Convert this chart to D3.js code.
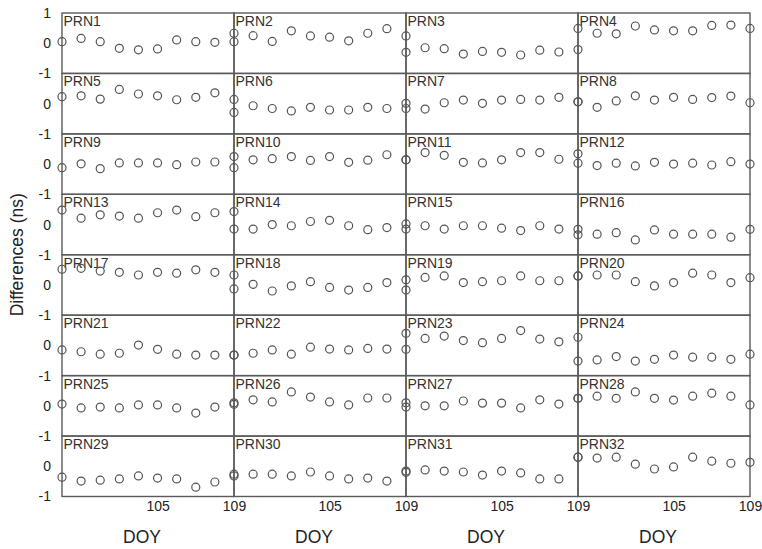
<!DOCTYPE html>
<html><head><meta charset="utf-8">
<script src="https://cdn.jsdelivr.net/npm/d3@7"></script>
<style>
body{margin:0;background:#fff;}
svg{display:block;font-family:"Liberation Sans",Arial,sans-serif;}
</style></head>
<body><div id="chart"></div>
<script>
const days = [100,101,102,103,104,105,106,107,108,109];
const xTicks = [105,109];
const yTicks = [0,-1];
const prnNames = ["PRN1","PRN2","PRN3","PRN4","PRN5","PRN6","PRN7","PRN8","PRN9","PRN10","PRN11","PRN12","PRN13","PRN14","PRN15","PRN16","PRN17","PRN18","PRN19","PRN20","PRN21","PRN22","PRN23","PRN24","PRN25","PRN26","PRN27","PRN28","PRN29","PRN30","PRN31","PRN32"];
const prn1  = [0.05,0.16,0.05,-0.17,-0.22,-0.19,0.11,0.05,0.03,0.05];
const prn2  = [0.33,0.25,0.06,0.41,0.24,0.20,0.08,0.33,0.48,0.24];
const prn3  = [-0.30,-0.15,-0.18,-0.36,-0.27,-0.30,-0.39,-0.23,-0.29,-0.21];
const prn4  = [0.49,0.33,0.31,0.57,0.44,0.41,0.41,0.59,0.60,0.49];
const prn5  = [0.23,0.26,0.15,0.47,0.32,0.26,0.13,0.21,0.36,0.14];
const prn6  = [-0.29,-0.07,-0.16,-0.24,-0.12,-0.21,-0.21,-0.12,-0.16,-0.16];
const prn7  = [0.01,-0.18,0.03,0.12,0.01,0.12,0.14,0.12,0.21,0.06];
const prn8  = [0.06,-0.12,0.09,0.26,0.12,0.21,0.14,0.20,0.25,0.03];
const prn9  = [-0.12,0.01,-0.15,0.04,0.04,0.04,-0.02,0.07,0.07,-0.12];
const prn10 = [0.25,0.14,0.18,0.25,0.12,0.25,0.06,0.13,0.31,0.14];
const prn11 = [0.14,0.38,0.29,0.06,0.04,0.14,0.38,0.38,0.16,0.34];
const prn12 = [0.03,-0.05,0.03,-0.06,0.06,0.00,0.03,-0.03,0.08,0.00];
const prn13 = [0.48,0.21,0.32,0.28,0.21,0.39,0.48,0.26,0.39,0.43];
const prn14 = [-0.15,-0.15,0.00,-0.04,0.10,0.14,-0.04,-0.17,-0.10,-0.15];
const prn15 = [0.02,-0.04,-0.15,-0.04,-0.04,-0.12,-0.20,-0.04,-0.15,-0.16];
const prn16 = [-0.34,-0.32,-0.27,-0.51,-0.18,-0.32,-0.32,-0.32,-0.42,-0.16];
const prn17 = [0.52,0.55,0.46,0.42,0.33,0.42,0.39,0.50,0.42,0.33];
const prn18 = [-0.13,0.02,-0.20,-0.03,0.11,-0.08,-0.17,-0.08,0.08,-0.17];
const prn19 = [0.17,0.25,0.30,0.08,0.11,0.14,0.30,0.14,0.14,0.30];
const prn20 = [0.30,0.33,0.33,0.11,-0.03,0.08,0.39,0.33,0.08,0.24];
const prn21 = [-0.15,-0.21,-0.29,-0.26,0.01,-0.13,-0.29,-0.32,-0.32,-0.32];
const prn22 = [-0.32,-0.26,-0.15,-0.29,-0.06,-0.12,-0.15,-0.10,-0.12,-0.13];
const prn23 = [0.40,0.23,0.31,0.16,0.09,0.23,0.49,0.21,0.12,0.27];
const prn24 = [-0.52,-0.48,-0.37,-0.52,-0.46,-0.32,-0.39,-0.39,-0.46,-0.29];
const prn25 = [0.06,-0.07,-0.04,-0.07,0.03,0.03,-0.07,-0.24,-0.04,0.05];
const prn26 = [0.10,0.20,0.13,0.46,0.29,0.13,0.03,0.26,0.26,0.10];
const prn27 = [-0.04,0.00,0.00,0.16,0.09,0.09,-0.07,0.20,0.06,0.25];
const prn28 = [0.25,0.32,0.25,0.46,0.25,0.19,0.32,0.42,0.32,0.03];
const prn29 = [-0.36,-0.49,-0.46,-0.42,-0.32,-0.39,-0.42,-0.69,-0.52,-0.32];
const prn30 = [-0.26,-0.26,-0.26,-0.32,-0.19,-0.32,-0.42,-0.39,-0.49,-0.20];
const prn31 = [-0.16,-0.12,-0.16,-0.19,-0.29,-0.16,-0.22,-0.42,-0.42,0.30];
const prn32 = [0.30,0.27,0.30,0.07,-0.09,-0.02,0.30,0.17,0.10,0.13];
const series = [prn1,prn2,prn3,prn4,prn5,prn6,prn7,prn8,prn9,prn10,prn11,prn12,prn13,prn14,prn15,prn16,prn17,prn18,prn19,prn20,prn21,prn22,prn23,prn24,prn25,prn26,prn27,prn28,prn29,prn30,prn31,prn32];

(function(){
const W=762,H=549;
const mLeft=62,mRight=750,mTop=13,mBottom=496.5;
const nCols=4,nRows=8;
const colW=(mRight-mLeft)/nCols, rowH=(mBottom-mTop)/nRows;
const svg=d3.select("#chart").append("svg").attr("width",W).attr("height",H);
const frameColor="#5a5a5a", pointColor="#555", textColor="#222";
const fmt=d=>String(d);

series.forEach((vals,i)=>{
  const c=i%nCols, r=Math.floor(i/nCols);
  const x0=mLeft+c*colW, y0=mTop+r*rowH;
  const x=d3.scaleLinear().domain([100,109]).range([x0,x0+colW]);
  const y=d3.scaleLinear().domain([-1,1]).range([y0+rowH,y0]);
  const g=svg.append("g");
  g.append("rect").attr("x",x0).attr("y",y0).attr("width",colW).attr("height",rowH)
    .attr("fill","none").attr("stroke",frameColor).attr("stroke-width",1.4);
  g.append("text").attr("x",x0+1.5).attr("y",y0+13).attr("font-size",14)
    .attr("fill","#333").text(prnNames[i]);
  g.selectAll("circle").data(vals).join("circle")
    .attr("cx",(d,j)=>x(days[j])).attr("cy",d=>y(d)).attr("r",4)
    .attr("fill","none").attr("stroke",pointColor).attr("stroke-width",1.2);
  if(c===0){
    const ax=d3.axisLeft(y).tickValues(r===0?[1,...yTicks]:yTicks).tickSize(0).tickPadding(11).tickFormat(fmt);
    const ag=svg.append("g").attr("transform",`translate(${x0},0)`).call(ax);
    ag.select(".domain").remove();
    ag.selectAll("text").attr("font-size",14).attr("fill",textColor).attr("font-family","Liberation Sans, Arial, sans-serif");
  }
  if(r===nRows-1){
    const ax=d3.axisBottom(x).tickValues(xTicks).tickSize(0).tickPadding(5).tickFormat(fmt);
    const ag=svg.append("g").attr("transform",`translate(0,${y0+rowH})`).call(ax);
    ag.select(".domain").remove();
    ag.selectAll("text").attr("font-size",14).attr("fill",textColor).attr("font-family","Liberation Sans, Arial, sans-serif");
    svg.append("text").attr("x",x0+colW/2-6).attr("y",543).attr("text-anchor","middle")
      .attr("font-size",17.5).attr("fill",textColor).text("DOY");
  }
});
svg.append("text").attr("transform",`translate(23,${(mTop+mBottom)/2}) rotate(-90)`)
  .attr("text-anchor","middle").attr("font-size",17.5).attr("fill",textColor).text("Differences (ns)");
})();
</script></body></html>
